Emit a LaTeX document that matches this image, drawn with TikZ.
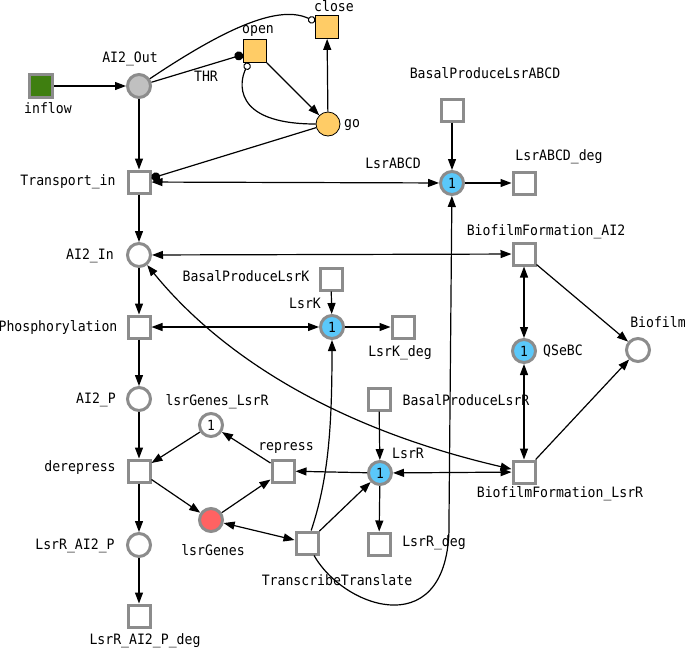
\documentclass[tikz,border=0pt]{standalone}
\usepackage{fontspec}
\setmonofont[FakeStretch=0.92]{DejaVu Sans Mono}
\usetikzlibrary{arrows.meta}
\definecolor{rim}{HTML}{8C8C8C}
\definecolor{tokblue}{HTML}{5AC8FA}
\definecolor{genered}{HTML}{FF6262}
\definecolor{gateorange}{HTML}{FFCC66}
\definecolor{srcgreen}{HTML}{3F7F10}
\definecolor{outgray}{HTML}{C0C0C0}
\begin{document}
\begin{tikzpicture}[x=1pt,y=-1pt,
  font=\ttfamily\fontsize{14.3}{16}\selectfont,
  place/.style={circle,draw=rim,line width=3pt,fill=white,minimum size=23pt,inner sep=0pt,font=\ttfamily\fontsize{14}{14}\selectfont},
  trans/.style={rectangle,draw=rim,line width=3pt,fill=white,minimum size=22pt,inner sep=0pt},
  gate/.style={draw=black,line width=0.8pt,fill=gateorange,inner sep=0pt},
  lbl/.style={inner sep=0pt,text height=10pt,text depth=2.5pt},
  arc/.style={line width=1.2pt,-{Triangle[length=11pt,width=8pt]}},
  biarc/.style={line width=1.2pt,{Triangle[length=11pt,width=8pt]}-{Triangle[length=11pt,width=8pt]}},
  inhib/.style={line width=1.2pt,-{Circle[open,length=7.5pt,line width=1pt]}},
  test/.style={line width=1.2pt,-{Circle[length=9pt]}}]
\useasboundingbox (0,0) rectangle (685,649);

% places
\node[place,fill=outgray] (ai2out) at (139,86) {};
\node[place] (ai2in) at (139,255) {};
\node[place] (ai2p) at (139,399) {};
\node[place] (lsrrai2p) at (139,545) {};
\node[place,fill=tokblue] (lsrabcd) at (452,183) {1};
\node[place,fill=tokblue] (lsrk) at (332,327) {1};
\node[place,fill=tokblue] (qsebc) at (524,351) {1};
\node[place,fill=tokblue] (lsrr) at (380,473) {1};
\node[place] (genesr) at (211,425) {1};
\node[place,fill=genered] (genes) at (211,520) {};
\node[place] (biofilm) at (638,350) {};
\node[gate,circle,minimum size=24pt] (go) at (328,124) {};

% transitions
\node[trans,fill=srcgreen,minimum size=23pt] (inflow) at (41,86) {};
\node[gate,minimum size=23pt] (open) at (255,51) {};
\node[gate,minimum size=23pt] (close) at (327,27) {};
\node[trans] (transin) at (139,182) {};
\node[trans] (phos) at (139,327) {};
\node[trans] (derep) at (139,471) {};
\node[trans] (lsrrai2pdeg) at (139,616) {};
\node[trans] (baslsrabcd) at (452,110) {};
\node[trans] (lsrabcddeg) at (524,183) {};
\node[trans] (bfai2) at (524,254) {};
\node[trans] (baslsrk) at (331,279) {};
\node[trans] (lsrkdeg) at (403,327) {};
\node[trans] (baslsrr) at (379,399) {};
\node[trans] (repress) at (283,471) {};
\node[trans] (bflsrr) at (524,472) {};
\node[trans] (tt) at (307,543) {};
\node[trans] (lsrrdeg) at (379,544) {};

% labels
\node[lbl] (inflow-l) at (48,110) {inflow};
\node[lbl] (ai2out-l) at (130,59) {AI2\_Out};
\node[lbl] (thr-l) at (206,78) {THR};
\node[lbl] (open-l) at (258,30) {open};
\node[lbl] (close-l) at (334,8) {close};
\node[lbl] (go-l) at (352,124) {go};
\node[lbl] (transin-l) at (68,182) {Transport\_in};
\node[lbl] (baslsrabcd-l) at (485,75) {BasalProduceLsrABCD};
\node[lbl] (lsrabcd-l) at (393,165) {LsrABCD};
\node[lbl] (lsrabcddeg-l) at (559,157) {LsrABCD\_deg};
\node[lbl] (ai2in-l) at (90,256) {AI2\_In};
\node[lbl] (bfai2-l) at (546,232) {BiofilmFormation\_AI2};
\node[lbl] (baslsrk-l) at (246,278) {BasalProduceLsrK};
\node[lbl] (lsrk-l) at (305,305) {LsrK};
\node[lbl] (phos-l) at (58,328) {Phosphorylation};
\node[lbl] (lsrkdeg-l) at (400,353) {LsrK\_deg};
\node[lbl] (qsebc-l) at (563,352) {QSeBC};
\node[lbl] (biofilm-l) at (658,324) {Biofilm};
\node[lbl] (ai2p-l) at (96,400) {AI2\_P};
\node[lbl] (genesr-l) at (217,402) {lsrGenes\_LsrR};
\node[lbl] (baslsrr-l) at (466,402) {BasalProduceLsrR};
\node[lbl] (repress-l) at (286,447) {repress};
\node[lbl] (lsrr-l) at (408,455) {LsrR};
\node[lbl] (derep-l) at (80,468) {derepress};
\node[lbl] (bflsrr-l) at (560,494) {BiofilmFormation\_LsrR};
\node[lbl] (genes-l) at (213,552) {lsrGenes};
\node[lbl] (lsrrdeg-l) at (434,543) {LsrR\_deg};
\node[lbl] (lsrrai2p-l) at (75,546) {LsrR\_AI2\_P};
\node[lbl] (tt-l) at (337,582) {TranscribeTranslate};
\node[lbl] (lsrrai2pdeg-l) at (145,641) {LsrR\_AI2\_P\_deg};

% switch
\draw[arc] (inflow) -- (ai2out);
\draw[test] (ai2out) -- (open);
\draw[inhib] (ai2out) .. controls (230,25) and (280,5) .. (close);
\draw[inhib] (go) .. controls (230,124) and (240,80) .. (open);
\draw[arc] (open) -- (go);
\draw[arc] (go) -- (close);
\draw[test] (go) -- (transin);

% uptake
\draw[arc] (ai2out) -- (transin);
\draw[biarc] (transin) -- (lsrabcd);
\draw[arc] (baslsrabcd) -- (lsrabcd);
\draw[arc] (lsrabcd) -- (lsrabcddeg);
\draw[arc] (transin) -- (ai2in);
\draw[biarc] (ai2in) -- (bfai2);
\draw[arc] (ai2in) -- (phos);
\draw[biarc] (phos) -- (lsrk);
\draw[arc] (baslsrk) -- (lsrk);
\draw[arc] (lsrk) -- (lsrkdeg);
\draw[arc] (phos) -- (ai2p);
\draw[arc] (ai2p) -- (derep);
\draw[arc] (derep) -- (lsrrai2p);
\draw[arc] (lsrrai2p) -- (lsrrai2pdeg);

% genes
\draw[arc] (genesr) -- (derep);
\draw[arc] (derep) -- (genes);
\draw[arc] (genes) -- (repress);
\draw[arc] (repress) -- (genesr);
\draw[arc] (lsrr) -- (repress);
\draw[biarc] (genes) -- (tt);
\draw[arc] (tt) -- (lsrr);
\draw[arc] (tt) .. controls (328,480) and (332,430) .. (lsrk);
\draw[arc] (tt) .. controls (345,610) and (452,645) .. (449,520) -- (lsrabcd);
\draw[arc] (baslsrr) -- (lsrr);
\draw[arc] (lsrr) -- (lsrrdeg);

% biofilm
\draw[biarc] (lsrr) -- (bflsrr);
\draw[biarc] (ai2in) .. controls (200,330) and (300,420) .. (bflsrr);
\draw[biarc] (bfai2) -- (qsebc);
\draw[biarc] (qsebc) -- (bflsrr);
\draw[arc] (bfai2) -- (biofilm);
\draw[arc] (bflsrr) -- (biofilm);
\end{tikzpicture}
\end{document}
